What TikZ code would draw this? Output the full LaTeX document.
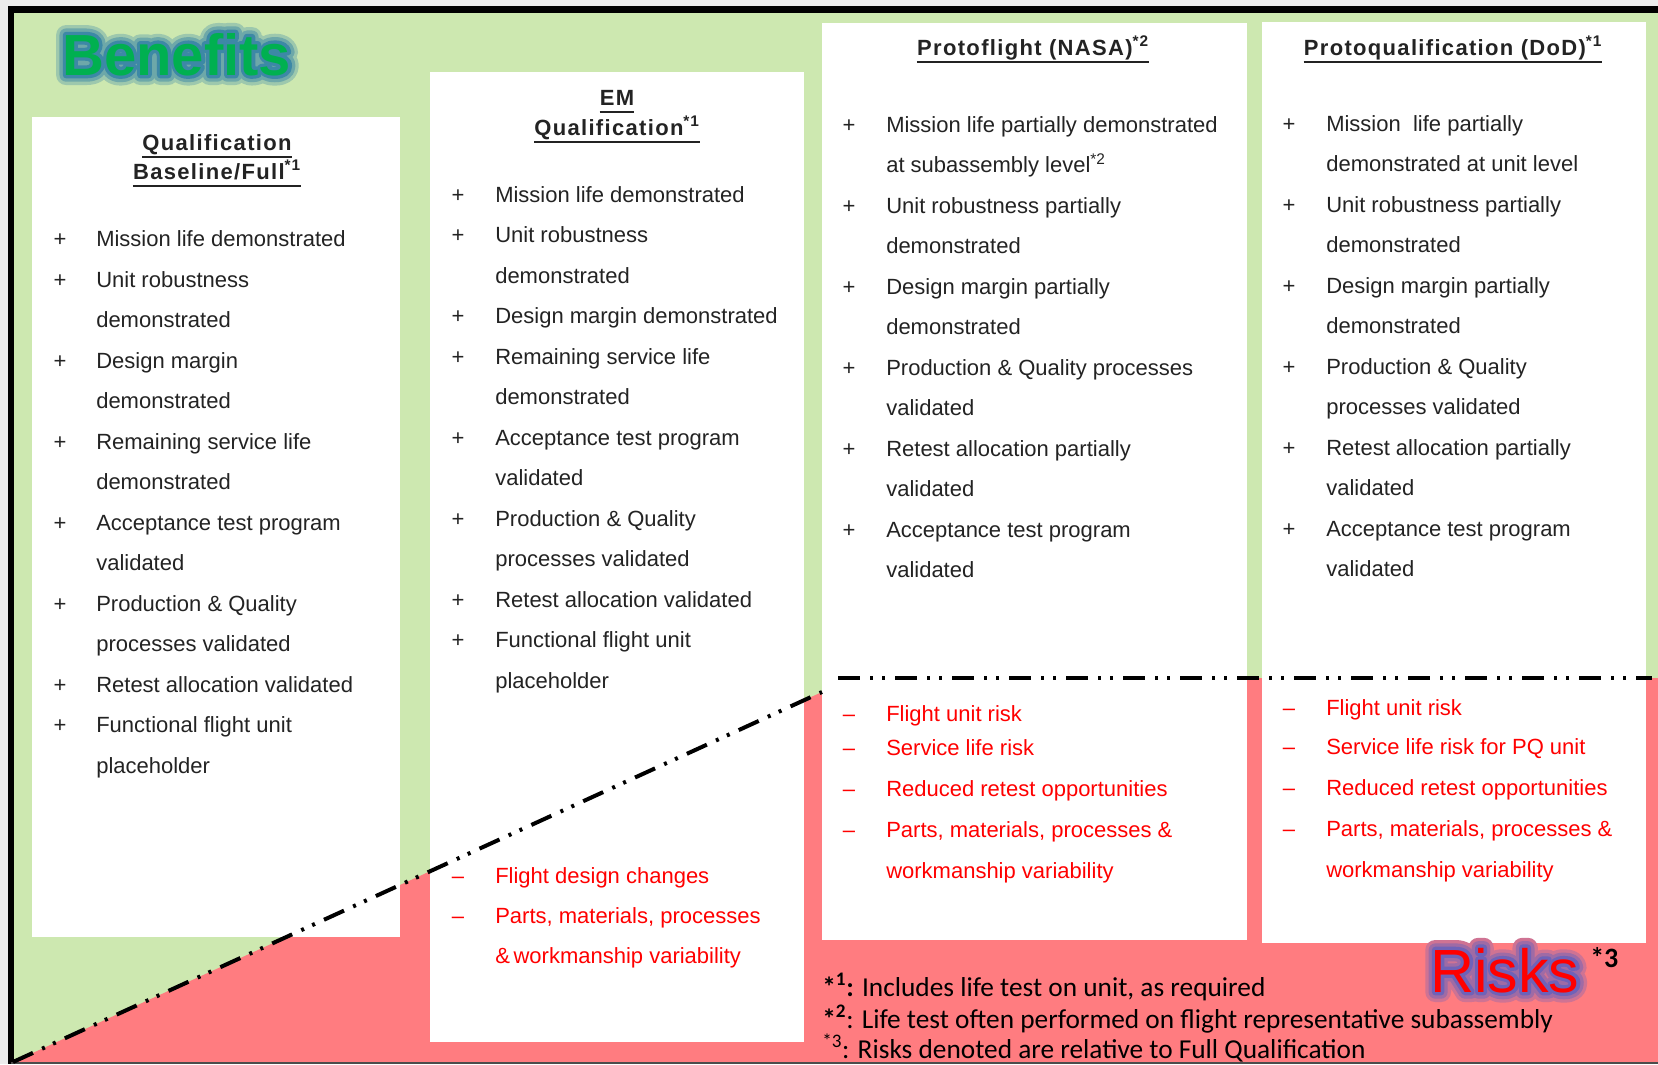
\documentclass[tikz,border=0pt]{standalone}
\usepackage{fontspec}
\setmainfont{Liberation Sans}
\newfontfamily\calib{Carlito}
\newfontfamily\titlefont[LetterSpace=6]{Liberation Sans}
\usetikzlibrary{calc}
\definecolor{bgGreen}{RGB}{205,232,176}
\definecolor{riskRed}{RGB}{255,124,128}
\definecolor{benGreen}{RGB}{0,176,80}
\definecolor{benGlow}{RGB}{45,125,165}
\definecolor{riskGlow}{RGB}{95,95,190}
\definecolor{txt}{RGB}{35,35,35}
\definecolor{outerGray}{RGB}{236,236,236}
% stroked text for a glow halo (text render mode 2 = fill + stroke)
\newcommand\halotext[2]{\special{pdf:literal direct 2 Tr #1 w 1 j 1 J}#2\special{pdf:literal direct 0 Tr 0.398 w 0 j 0 J}}
\begin{document}
\begin{tikzpicture}[x=0.75pt,y=-0.75pt,
  body/.style={inner sep=0pt, anchor=base west, text=txt, font=\fontsize{16.5pt}{20pt}\selectfont},
  sym/.style={inner sep=0pt, anchor=base, text=txt, font=\fontsize{16.5pt}{20pt}\selectfont},
  risktxt/.style={body, text=red},
  risksym/.style={sym, text=red},
  ttl/.style={inner sep=0pt, anchor=base, text=txt, font=\titlefont\bfseries\fontsize{16.5pt}{20pt}\selectfont},
  uline/.style={line width=1.5pt, txt},
  ddot/.style={line width=3pt, dash pattern=on 16.5pt off 7.5pt on 2.25pt off 6.75pt on 2.25pt off 7.5pt},
  foot/.style={inner sep=0pt, anchor=base west, text=black, font=\calib\fontsize{20.5pt}{23pt}\selectfont},
  benef/.style={inner sep=0pt, anchor=base west, font=\bfseries\fontsize{43.5pt}{50pt}\selectfont},
  risksbig/.style={inner sep=0pt, anchor=base west, font=\fontsize{45.75pt}{52pt}\selectfont},
]
\useasboundingbox (0,0) rectangle (1658,1064);
% background
\fill[outerGray] (0,0) rectangle (1658,1064);
\fill[bgGreen] (13,12) rectangle (1658,1062);
\fill[riskRed] (13,1062) -- (822,692) -- (822,678) -- (1658,678) -- (1658,1062) -- cycle;
\draw[line width=5.25pt] (8,9.5) -- (1658,9.5);
\draw[line width=4.5pt] (11,6) -- (11,1064);
\draw[line width=1.5pt, black!70] (11,1063) -- (1658,1063);
% panels
\fill[white] (32,117) rectangle (400,937);
\fill[white] (430,72) rectangle (804,1042);
\fill[white] (822,23) rectangle (1247,940);
\fill[white] (1262,22) rectangle (1646,943);
% boundary lines
\coordinate (dA) at (13,1062);
\coordinate (dB) at (822,692);
\draw[ddot] (dA) -- (dB);
\coordinate (hA) at (838,678);
\coordinate (hB) at (1652,678);
\draw[ddot] (hA) -- (hB);
% Benefits with glow
\node[benef, text=benGlow!30!bgGreen] (bglow1) at (62,75) {\halotext{15}{Benefits}};
\node[benef, text=benGlow!60!bgGreen] (bglow2) at (62,75) {\halotext{10}{Benefits}};
\node[benef, text=benGlow!90!bgGreen] (bglow3) at (62,75) {\halotext{5}{Benefits}};
\node[benef, text=benGreen] (benefits) at (62,75) {Benefits};
% Risks with glow
\node[risksbig, text=riskGlow!30!riskRed] (rglow1) at (1430,992) {\halotext{15}{Risks}};
\node[risksbig, text=riskGlow!60!riskRed] (rglow2) at (1430,992) {\halotext{10}{Risks}};
\node[risksbig, text=riskGlow!90!riskRed] (rglow3) at (1430,992) {\halotext{5}{Risks}};
\node[risksbig, text=red] (risks) at (1430,992) {Risks};
\node[inner sep=0pt, anchor=base west, font=\calib\bfseries\fontsize{21pt}{24pt}\selectfont] (risksnote) at (1590,967) {*3};
% titles
\node[ttl] (t1a) at (217,150) {Qualification};
\node[ttl] (t1b) at (217,179) {Baseline/Full\textsuperscript{*1}};
\node[ttl] (t2a) at (617,105) {EM};
\node[ttl] (t2b) at (617,135) {Qualification\textsuperscript{*1}};
\node[ttl] (t3) at (1033,55) {Protoflight (NASA)\textsuperscript{*2}};
\node[ttl] (t4) at (1453,55) {Protoqualification (DoD)\textsuperscript{*1}};
\foreach \n in {t1a,t1b,t2a,t2b,t3,t4}{
  \draw[uline] ([yshift=-5pt]\n.base west) -- ([yshift=-5pt]\n.base east);}
% column 1
\foreach \s/\y/\t [count=\i] in {+/246.5/Mission life demonstrated, +/287/Unit robustness, {}/327.5/demonstrated, +/368/Design margin, {}/408.5/demonstrated, +/449/Remaining service life, {}/489.5/demonstrated, +/530/Acceptance test program, {}/570.5/validated, +/611/Production \& Quality, {}/651.5/processes validated, +/692/Retest allocation validated, +/732.5/Functional flight unit, {}/773/placeholder}{
  \node[sym] (a\i s) at (60,\y) {\s};
  \node[body] (a\i) at (96,\y) {\t};}
% column 2
\foreach \s/\y/\t [count=\i] in {+/202/Mission life demonstrated, +/242.5/Unit robustness, {}/283/demonstrated, +/323.5/Design margin demonstrated, +/364/Remaining service life, {}/404.5/demonstrated, +/445/Acceptance test program, {}/485.5/validated, +/526/Production \& Quality, {}/566.5/processes validated, +/607/Retest allocation validated, +/647.5/Functional flight unit, {}/688/placeholder}{
  \node[sym] (b\i s) at (458,\y) {\s};
  \node[body] (b\i) at (495,\y) {\t};}
\foreach \s/\y/\t [count=\i] in {\textendash/883/Flight design changes, \textendash/923/{Parts, materials,\ processes}, {}/963/\&\,workmanship variability}{
  \node[risksym] (br\i s) at (458,\y) {\s};
  \node[risktxt] (br\i) at (495,\y) {\t};}
% column 3
\foreach \s/\y/\t [count=\i] in {+/132/Mission life partially demonstrated, {}/172.5/at subassembly level\textsuperscript{*2}, +/213/Unit robustness partially, {}/253.5/demonstrated, +/294/Design margin partially, {}/334.5/demonstrated, +/375/Production \& Quality processes, {}/415.5/validated, +/456/Retest allocation partially, {}/496.5/validated, +/537/Acceptance test program, {}/577.5/validated}{
  \node[sym] (c\i s) at (849,\y) {\s};
  \node[body] (c\i) at (886,\y) {\t};}
\foreach \s/\y/\t [count=\i] in {\textendash/721/Flight unit risk, \textendash/755/Service life risk, \textendash/796/Reduced retest opportunities, \textendash/837.5/{Parts, materials, processes \&}, {}/878/workmanship variability}{
  \node[risksym] (cr\i s) at (849,\y) {\s};
  \node[risktxt] (cr\i) at (886,\y) {\t};}
% column 4
\foreach \s/\y/\t [count=\i] in {+/131/Mission\ \ life partially, {}/171.5/demonstrated at unit level, +/212/Unit robustness partially, {}/252.5/demonstrated, +/293/Design margin partially, {}/333.5/demonstrated, +/374/Production \& Quality, {}/414.5/processes validated, +/455/Retest allocation partially, {}/495.5/validated, +/536/Acceptance test program, {}/576.5/validated}{
  \node[sym] (d\i s) at (1289,\y) {\s};
  \node[body] (d\i) at (1326,\y) {\t};}
\foreach \s/\y/\t [count=\i] in {\textendash/715/Flight unit risk, \textendash/754/Service life risk for PQ unit, \textendash/795/Reduced retest opportunities, \textendash/836.5/{Parts, materials, processes \&}, {}/877/workmanship variability}{
  \node[risksym] (dr\i s) at (1289,\y) {\s};
  \node[risktxt] (dr\i) at (1326,\y) {\t};}
% footnotes
\node[foot] (f1) at (822,996) {\textbf{*\textsuperscript{1}:} Includes life test on unit, as required};
\node[foot] (f2) at (822,1028) {\textbf{*\textsuperscript{2}}: Life test often performed on flight representative subassembly};
\node[foot] (f3) at (822,1058) {\textsuperscript{*3}: Risks denoted are relative to Full Qualification};
\end{tikzpicture}
\end{document}
